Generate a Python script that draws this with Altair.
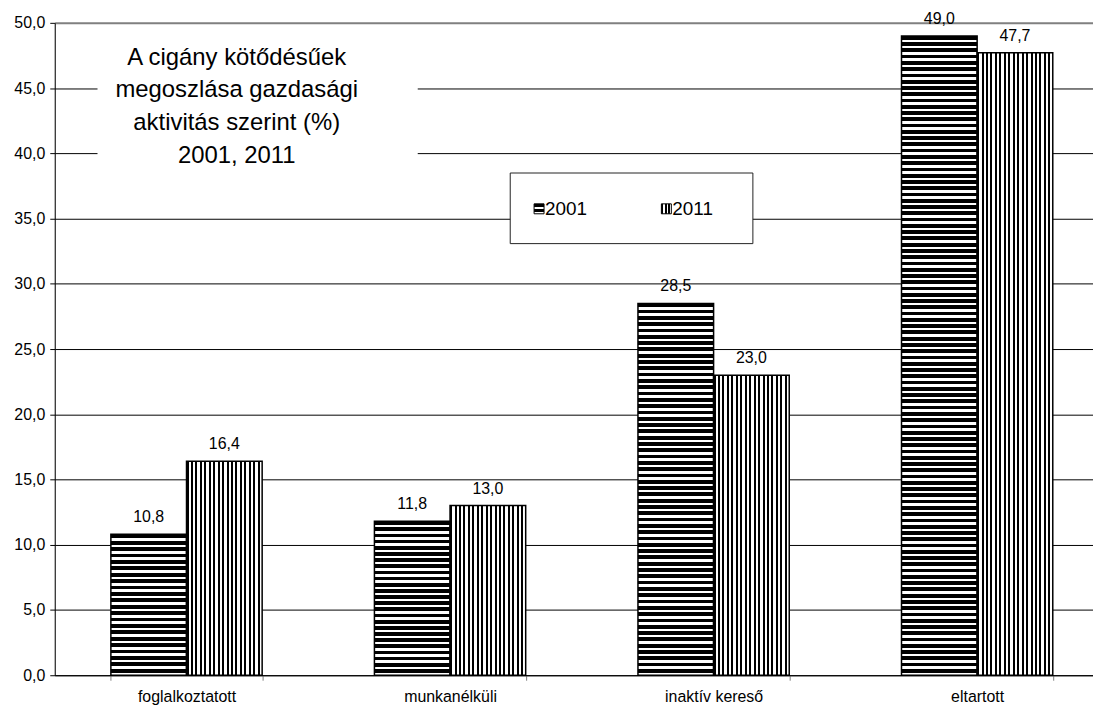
import altair as alt
import pandas as pd

categories = ["foglalkoztatott", "munkanélküli", "inaktív kereső", "eltartott"]
years = ["2001", "2011"]
values_2001 = [10.8, 11.8, 28.5, 49.0]
values_2011 = [16.4, 13.0, 23.0, 47.7]
y_ticks = [0, 5, 10, 15, 20, 25, 30, 35, 40, 45, 50]
title_lines = ["A cigány kötődésűek", "megoszlása gazdasági", "aktivitás szerint (%)", "2001, 2011"]

rows = []
for c, v in zip(categories, values_2001):
    rows.append({"cat": c, "year": "2001", "value": v})
for c, v in zip(categories, values_2011):
    rows.append({"cat": c, "year": "2011", "value": v})
df = pd.DataFrame(rows)

FONT = "Liberation Sans"
PX_PER_UNIT = 656 / 50.0


def stripes(n, black_frac, vertical):
    stops = []
    for i in range(n):
        a = i / n
        b = (i + black_frac) / n
        c = (i + 1) / n
        stops += [
            {"offset": a, "color": "black"},
            {"offset": b, "color": "black"},
            {"offset": b, "color": "white"},
            {"offset": c, "color": "white"},
        ]
    if vertical:
        return {"gradient": "linear", "x1": 0, "y1": 0, "x2": 1, "y2": 0, "stops": stops}
    return {"gradient": "linear", "x1": 0, "y1": 0, "x2": 0, "y2": 1, "stops": stops}


x_enc = alt.X(
    "cat:N",
    sort=categories,
    scale=alt.Scale(range=[0, 1060], paddingInner=0.426, paddingOuter=0.213),
    axis=alt.Axis(
        title=None, labelAngle=0, tickBand="extent", ticks=True, tickColor="#808080",
        tickSize=5, domainColor="black", domainWidth=1, labelFontSize=16, labelPadding=8,
        labelColor="black", grid=False, labelFont=FONT,
    ),
)
xo_enc = alt.XOffset("year:N", scale=alt.Scale(domain=years, paddingInner=0, paddingOuter=0))
y_enc = alt.Y(
    "value:Q",
    scale=alt.Scale(domain=[0, 50], nice=False),
    axis=alt.Axis(
        values=y_ticks, title=None, tickSize=5, tickColor="black", domainColor="black",
        labelExpr="replace(format(datum.value, '.1f'), '.', ',')",
        gridColor={"condition": {"test": "datum.value === 50", "value": "#808080"}, "value": "black"},
        gridWidth={"condition": {"test": "datum.value === 50", "value": 2}, "value": 1},
        labelFontSize=16, labelPadding=5, labelColor="black", labelFont=FONT,
    ),
)

base = alt.Chart(df).encode(x=x_enc, xOffset=xo_enc, y=y_enc)

layers = []
# white boxes behind title and legend (cover gridlines)
one = alt.Chart(pd.DataFrame({"a": [0]}))
layers.append(
    one.mark_rect(fill="white", stroke=None).encode(
        x=alt.value(43), x2=alt.value(365), y=alt.value(10), y2=alt.value(170)
    )
)
layers.append(
    one.mark_rect(fill="white", stroke="#222222", strokeWidth=1).encode(
        x=alt.value(458), x2=alt.value(702), y=alt.value(151), y2=alt.value(222)
    )
)

# 2001 bars: horizontal stripes, count depends on bar height
for c, v in zip(categories, values_2001):
    n = max(1, round(v * PX_PER_UNIT / 6.3))
    layers.append(
        base.transform_filter(
            (alt.datum.cat == c) & (alt.datum.year == "2001")
        ).mark_bar(fill=stripes(n, 0.6, False), stroke="black", strokeWidth=1.5)
    )
# 2011 bars: vertical stripes
layers.append(
    base.transform_filter(alt.datum.year == "2011").mark_bar(
        fill=stripes(17, 0.45, True), stroke="black", strokeWidth=1.5
    )
)

# value labels
layers.append(
    base.transform_calculate(
        label="replace(format(datum.value, '.1f'), '.', ',')"
    ).mark_text(dy=-12, baseline="alphabetic", fontSize=16, font=FONT, color="black").encode(
        text="label:N"
    )
)

# title text
layers.append(
    one.mark_text(
        text=title_lines, fontSize=24, font=FONT, color="black", align="center",
        baseline="alphabetic", lineHeight=33,
    ).encode(x=alt.value(183), y=alt.value(42))
)

# legend symbols and labels
layers.append(
    one.mark_rect(fill=stripes(2, 0.6, False), stroke="black", strokeWidth=1).encode(
        x=alt.value(482), x2=alt.value(492), y=alt.value(182), y2=alt.value(192)
    )
)
layers.append(
    one.mark_text(text="2001", fontSize=19, font=FONT, color="black", align="left", baseline="middle").encode(
        x=alt.value(493), y=alt.value(187)
    )
)
layers.append(
    one.mark_rect(fill=stripes(3, 0.6, True), stroke="black", strokeWidth=1).encode(
        x=alt.value(610), x2=alt.value(620), y=alt.value(182), y2=alt.value(192)
    )
)
layers.append(
    one.mark_text(text="2011", fontSize=19, font=FONT, color="black", align="left", baseline="middle").encode(
        x=alt.value(621), y=alt.value(187)
    )
)

chart = alt.layer(*layers).properties(
    width=1044, height=656,
    padding={"left": 47, "top": 13, "right": 0, "bottom": 28},
    autosize="none",
).configure_view(stroke=None).configure(background="white")

chart.save("out.html", embed_options={"renderer": "svg", "actions": False})
